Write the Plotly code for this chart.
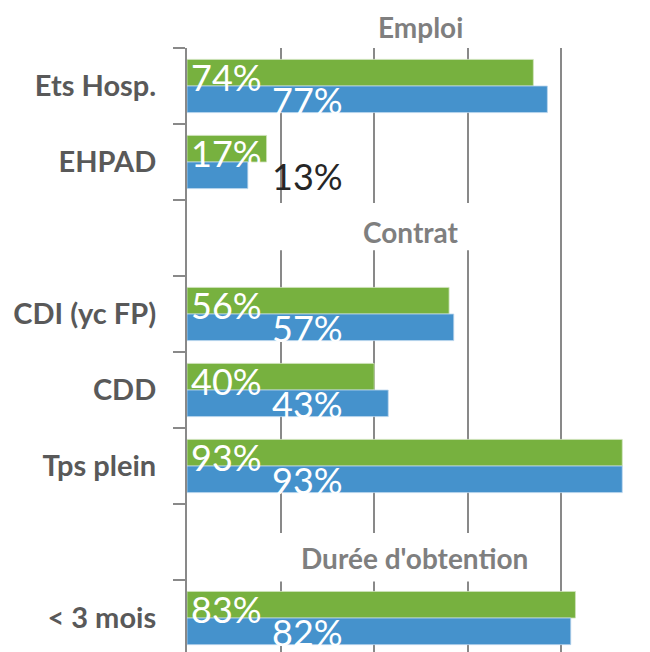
import plotly.graph_objects as go

categories = ["Ets Hosp.", "EHPAD", "", "CDI (yc FP)", "CDD", "Tps plein", "", "< 3 mois"]
green_vals = [74, 17, None, 56, 40, 93, None, 83]
blue_vals = [77, 13, None, 57, 43, 93, None, 82]
headers = ["Emploi", "Contrat", "Durée d'obtention"]

GREEN = "#77B13F"
BLUE = "#4592CC"
GRID = "#898989"
FONT = "Lato"

ypos = list(range(len(categories)))

fig = go.Figure()
fig.add_trace(go.Bar(y=ypos, x=green_vals, orientation="h", marker=dict(color=GREEN, line=dict(color="#CFE3BC", width=0.8)), hoverinfo="skip"))
fig.add_trace(go.Bar(y=ypos, x=blue_vals, orientation="h", marker=dict(color=BLUE, line=dict(color="#BBD6EE", width=0.8)), hoverinfo="skip"))

annotations = []
for i, (g, b) in enumerate(zip(green_vals, blue_vals)):
    if g is not None:
        annotations.append(dict(x=0, y=i - 0.12, xref="x", yref="y", text=f"{g}%", showarrow=False,
                                xanchor="left", yanchor="middle", xshift=2,
                                font=dict(family=FONT, size=36, color="white")))
    if b is not None:
        bx = 17.8
        col = "white" if b > bx + 12 else "#262626"
        annotations.append(dict(x=bx, y=i + 0.19, xref="x", yref="y", text=f"{b}%", showarrow=False,
                                xanchor="left", yanchor="middle",
                                font=dict(family=FONT, size=36, color=col)))

# header positions: x in data units, y in paper units
hdr_pos = [(49.8, 1.035), (47.9, 0.695), (48.7, 0.156)]
for t, (hx, hy) in zip(headers, hdr_pos):
    annotations.append(dict(x=hx, y=hy, xref="x", yref="paper", text=f"<b>{t}</b>", showarrow=False,
                            xanchor="center", yanchor="middle",
                            font=dict(family=FONT, size=28, color="#7F7F7F")))

shapes = [
    dict(type="rect", xref="x", yref="y", x0=15, x1=65, y0=1.54, y1=2.16, fillcolor="white", line=dict(width=0), layer="between"),
    dict(type="rect", xref="x", yref="y", x0=15, x1=70, y0=5.88, y1=6.52, fillcolor="white", line=dict(width=0), layer="between"),
]

n = len(categories)
fig.update_layout(
    width=650, height=652,
    margin=dict(l=179, r=8, t=40, b=8, autoexpand=False),
    paper_bgcolor="white", plot_bgcolor="white",
    barmode="group", bargap=0.3,
    showlegend=False,
    annotations=annotations,
    shapes=shapes,
    xaxis=dict(range=[0, 98.93], dtick=20, tick0=0, showgrid=True, gridcolor=GRID, gridwidth=1.6,
               showticklabels=False, zeroline=False, showline=False, fixedrange=True, automargin=False),
    yaxis=dict(range=[n - 0.553, -0.5], tickmode="array", tickvals=ypos,
               ticktext=[f"<b>{c}</b>" for c in categories], ticks="",
               tickfont=dict(family=FONT, size=29, color="#595959"), ticklabelstandoff=23,
               showline=True, linecolor=GRID, linewidth=2, showgrid=False, zeroline=False,
               minor=dict(tickmode="array", tickvals=[k - 0.5 for k in range(n + 1)], ticks="outside",
                          ticklen=12, tickwidth=2, tickcolor=GRID),
               fixedrange=True, automargin=False),
)

fig.write_html("out.html")
